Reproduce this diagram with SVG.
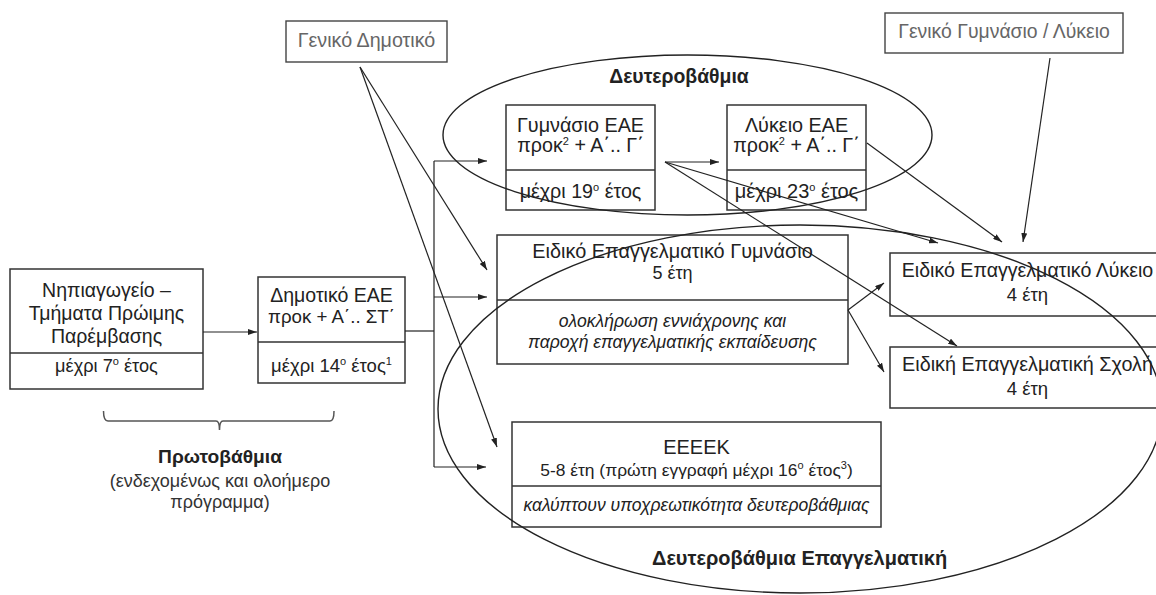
<svg xmlns="http://www.w3.org/2000/svg" width="1156" height="595" viewBox="0 0 1156 595">
<defs>
<style>
.box{fill:none;stroke:#333;stroke-width:1.5}
.gbox{fill:none;stroke:#444;stroke-width:1.4}
.div{stroke:#333;stroke-width:1.5}
.t{font-family:"Liberation Sans",Arial,sans-serif;font-size:19.5px;fill:#222;text-anchor:middle}
.s{font-size:18px}
.g{fill:#666}
.i{font-style:italic;font-size:17.6px}
.b{font-weight:bold}
.sup{font-size:11px}
.ln{fill:none;stroke:#222;stroke-width:1.2}
.arr{fill:none;stroke:#222;stroke-width:1.2;marker-end:url(#ah)}
.ell{fill:none;stroke:#222;stroke-width:1.4}
.br{fill:none;stroke:#555;stroke-width:1.5}
</style>
<marker id="ah" markerWidth="9" markerHeight="6" refX="9" refY="3" orient="auto" markerUnits="userSpaceOnUse">
<path d="M0,0 L9,3 L0,6 z" fill="#222"/>
</marker>
</defs>
<rect width="1156" height="595" fill="#fff"/>

<g id="nipiagogeio">
<rect class="box" x="10" y="269" width="193" height="120"/>
<line class="div" x1="10" y1="353" x2="203" y2="353"/>
<text class="t" x="106.5" y="297">Νηπιαγωγείο –</text>
<text class="t" x="106.5" y="320">Τμήματα Πρώιμης</text>
<text class="t" x="106.5" y="343">Παρέμβασης</text>
<text class="t" x="106.5" y="372" style="font-size:18.2px">μέχρι 7<tspan class="sup" dy="-7">ο</tspan><tspan dy="7"> έτος</tspan></text>
</g>

<g id="dimotiko-eae">
<rect class="box" x="258" y="277" width="147" height="106"/>
<line class="div" x1="258" y1="342" x2="405" y2="342"/>
<text class="t" x="331.5" y="302">Δημοτικό ΕΑΕ</text>
<text class="t" x="331.5" y="323" style="font-size:18.7px">προκ + Α΄.. ΣΤ΄</text>
<text class="t" x="331.5" y="372" style="font-size:18.5px">μέχρι 14<tspan class="sup" dy="-7">ο</tspan><tspan dy="7"> έτος</tspan><tspan class="sup" dy="-7">1</tspan></text>
</g>

<g id="geniko-dimotiko">
<rect class="gbox" x="286" y="21" width="161" height="41"/>
<text class="t g" x="366.5" y="47" style="font-size:19.7px">Γενικό Δημοτικό</text>
</g>

<g id="geniko-gymnasio-lykeio">
<rect class="gbox" x="885" y="13" width="238" height="40"/>
<text class="t g" x="1004" y="38" style="font-size:19.4px">Γενικό Γυμνάσιο / Λύκειο</text>
</g>

<g id="gymnasio-eae">
<rect class="box" x="506" y="105" width="149" height="105"/>
<line class="div" x1="506" y1="170" x2="655" y2="170"/>
<text class="t" x="580.5" y="132" style="font-size:19.8px">Γυμνάσιο ΕΑΕ</text>
<text class="t" x="580.5" y="152" style="font-size:19.7px">προκ<tspan class="sup" dy="-7">2</tspan><tspan dy="7"> + Α΄.. Γ΄</tspan></text>
<text class="t" x="580.5" y="198" style="font-size:19.7px">μέχρι 19<tspan class="sup" dy="-7">ο</tspan><tspan dy="7"> έτος</tspan></text>
</g>

<g id="lykeio-eae">
<rect class="box" x="727" y="105" width="139" height="105"/>
<line class="div" x1="727" y1="170" x2="866" y2="170"/>
<text class="t" x="796.5" y="132" style="font-size:19.8px">Λύκειο ΕΑΕ</text>
<text class="t" x="796.5" y="152" style="font-size:19.7px">προκ<tspan class="sup" dy="-7">2</tspan><tspan dy="7"> + Α΄.. Γ΄</tspan></text>
<text class="t" x="796.5" y="198" style="font-size:20px">μέχρι 23<tspan class="sup" dy="-7">ο</tspan><tspan dy="7"> έτος</tspan></text>
</g>

<g id="eidiko-epag-gymnasio">
<rect class="box" x="497" y="235" width="351" height="129"/>
<line class="div" x1="497" y1="300" x2="848" y2="300"/>
<text class="t" x="672.5" y="258" style="font-size:19.9px">Ειδικό Επαγγελματικό Γυμνάσιο</text>
<text class="t s" x="672.5" y="279">5 έτη</text>
<text class="t i" x="672.5" y="327">ολοκλήρωση εννιάχρονης και</text>
<text class="t i" x="672.5" y="348">παροχή επαγγελματικής εκπαίδευσης</text>
</g>

<g id="eidiko-epag-lykeio">
<rect class="box" x="890" y="253" width="280" height="63"/>
<text class="t" x="1027.5" y="277" style="font-size:19.6px">Ειδικό Επαγγελματικό Λύκειο</text>
<text class="t" x="1027.5" y="301" style="font-size:18.5px">4 έτη</text>
</g>

<g id="eidiki-epag-scholi">
<rect class="box" x="890" y="347" width="280" height="61"/>
<text class="t" x="1027.5" y="371" style="font-size:19.8px">Ειδική Επαγγελματική Σχολή</text>
<text class="t" x="1027.5" y="395" style="font-size:18.5px">4 έτη</text>
</g>

<g id="eeeek">
<rect class="box" x="512" y="422" width="369" height="105"/>
<line class="div" x1="512" y1="486" x2="881" y2="486"/>
<text class="t" x="696.5" y="454" style="font-size:20px">ΕΕΕΕΚ</text>
<text class="t" x="696.5" y="476" style="font-size:17.4px">5-8 έτη (πρώτη εγγραφή μέχρι 16<tspan class="sup" dy="-7">ο</tspan><tspan dy="7"> έτος</tspan><tspan class="sup" dy="-7">3</tspan><tspan dy="7">)</tspan></text>
<text class="t i" x="696.5" y="511" style="font-size:17.5px">καλύπτουν υποχρεωτικότητα δευτεροβάθμιας</text>
</g>

<g id="protovathmia">
<path class="br" d="M103.5,411 Q103.5,421 108,421 H216 Q219.5,421 219.5,430 Q219.5,421 223,421 H330 Q334,421 334,411"/>
<text class="t b" x="220" y="463" style="font-size:19.2px">Πρωτοβάθμια</text>
<text class="t s" x="220" y="487" style="fill:#333">(ενδεχομένως και ολοήμερο</text>
<text class="t s" x="220" y="508" style="fill:#333">πρόγραμμα)</text>
</g>

<g id="deuterovathmia">
<ellipse class="ell" cx="687.5" cy="135" rx="244.5" ry="80"/>
<text class="t b" x="679" y="83" style="font-size:19.4px">Δευτεροβάθμια</text>
</g>

<g id="deuterovathmia-epaggelmatiki">
<ellipse class="ell" cx="800" cy="409" rx="362" ry="184"/>
<text class="t b" x="652" y="565" style="text-anchor:start;font-size:20px">Δευτεροβάθμια Επαγγελματική</text>
</g>

<g id="connectors">
<line class="arr" x1="203" y1="332" x2="257" y2="332"/>
<line class="ln" x1="405" y1="331" x2="434" y2="331"/>
<line class="ln" x1="434" y1="161" x2="434" y2="467"/>
<line class="arr" x1="434" y1="161" x2="487" y2="161"/>
<line class="arr" x1="434" y1="297" x2="487" y2="297"/>
<line class="arr" x1="434" y1="467" x2="486" y2="467"/>
<line class="arr" x1="360" y1="67" x2="487" y2="270"/>
<line class="arr" x1="360" y1="67" x2="497" y2="447"/>
<line class="arr" x1="665" y1="162" x2="719" y2="162"/>
<line class="arr" x1="665" y1="162" x2="938" y2="243"/>
<line class="arr" x1="665" y1="162" x2="957" y2="346"/>
<line class="arr" x1="867" y1="143" x2="1002" y2="242"/>
<line class="arr" x1="1050" y1="58" x2="1023" y2="242"/>
<line class="arr" x1="848" y1="310" x2="884" y2="283"/>
<line class="arr" x1="848" y1="310" x2="884" y2="372"/>
</g>
</svg>
